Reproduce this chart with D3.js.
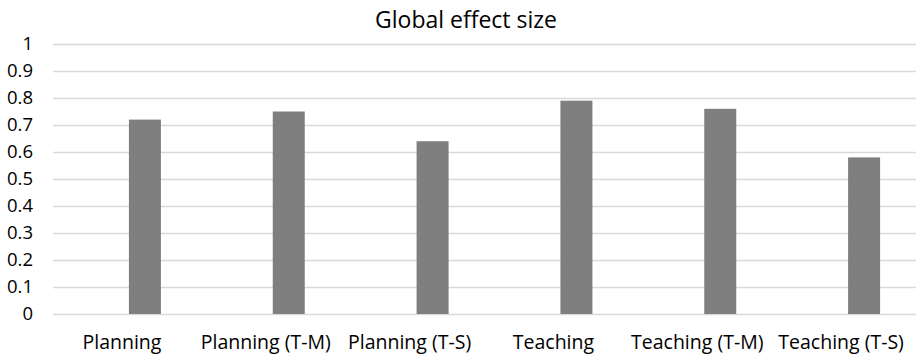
<!DOCTYPE html>
<html>
<head>
<meta charset="utf-8">
<script src="https://cdn.jsdelivr.net/npm/d3@7"></script>
<style>
  html, body { margin: 0; padding: 0; background: #fff; }
  svg { display: block; font-family: "Open Sans", sans-serif; }
</style>
</head>
<body>
<svg id="chart" width="917" height="357"></svg>
<script>
// Chart data
const categories = ["Planning", "Planning (T-M)", "Planning (T-S)", "Teaching", "Teaching (T-M)", "Teaching (T-S)"];
const effectSize = [0.72, 0.75, 0.64, 0.79, 0.76, 0.58];
const yTicks = [0, 0.1, 0.2, 0.3, 0.4, 0.5, 0.6, 0.7, 0.8, 0.9, 1];
const chartTitle = "Global effect size";

const svg = d3.select("#chart");
const plot = { left: 53, right: 916, top: 44, bottom: 314 };
const fontFamily = "'Open Sans', sans-serif";

const x = d3.scaleBand().domain(categories).range([plot.left, plot.right]).padding(0);
const y = d3.scaleLinear().domain([0, 1]).range([plot.bottom, plot.top]);

// Horizontal gridlines
svg.append("g")
  .selectAll("line")
  .data(yTicks)
  .join("line")
  .attr("x1", plot.left)
  .attr("x2", plot.right)
  .attr("y1", d => Math.round(y(d)) + 0.5)
  .attr("y2", d => Math.round(y(d)) + 0.5)
  .attr("stroke", "#d9d9d9")
  .attr("stroke-width", 1.3);

// Y axis labels
const yAxis = d3.axisLeft(y).tickValues(yTicks).tickSize(0).tickPadding(0)
  .tickFormat(d => d3.format("~g")(d));
svg.append("g")
  .attr("transform", "translate(33,0)")
  .call(yAxis)
  .call(g => g.select(".domain").remove())
  .call(g => g.selectAll("text")
    .attr("font-family", fontFamily)
    .attr("font-size", 18.5)
    .attr("fill", "#000"));

// Bars sit slightly to the right of each category centre
const barWidth = x.bandwidth() * 0.2225;
const barOffset = x.bandwidth() / 2 + 4;
svg.append("g")
  .selectAll("rect")
  .data(categories.map((c, i) => ({ c, v: effectSize[i] })))
  .join("rect")
  .attr("x", d => x(d.c) + barOffset)
  .attr("width", barWidth)
  .attr("y", d => y(d.v))
  .attr("height", d => y(0) - y(d.v))
  .attr("fill", "#7f7f7f");

// Category labels
const xAxis = d3.axisBottom(x).tickSize(0).tickPadding(0);
svg.append("g")
  .attr("transform", `translate(-3,${plot.bottom})`)
  .call(xAxis)
  .call(g => g.select(".domain").remove())
  .call(g => g.selectAll("text")
    .attr("dy", null)
    .attr("y", 35)
    .attr("font-family", fontFamily)
    .attr("font-size", 19.5)
    .attr("fill", "#000"));

// Title
svg.append("text")
  .attr("x", 466)
  .attr("y", 28)
  .attr("text-anchor", "middle")
  .attr("font-family", fontFamily)
  .attr("font-size", 23)
  .attr("fill", "#000")
  .text(chartTitle);
</script>
</body>
</html>
